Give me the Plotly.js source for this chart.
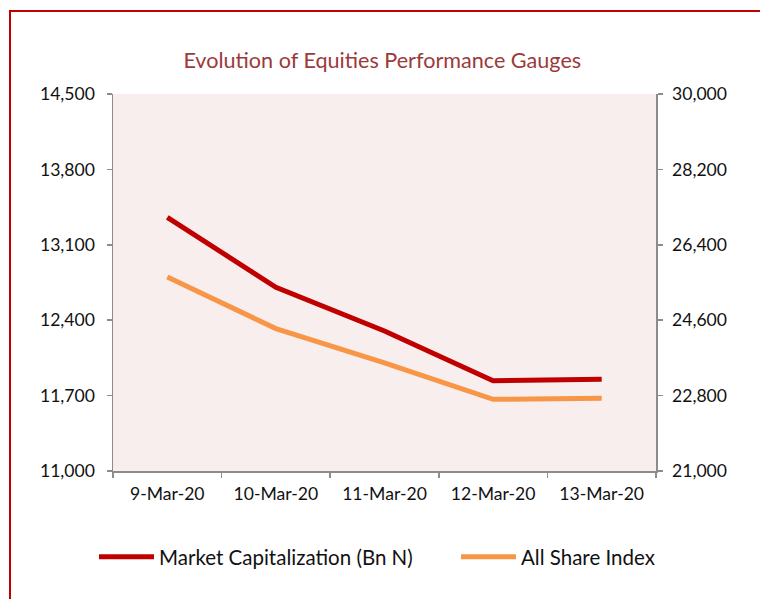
<!DOCTYPE html>
<html><head><meta charset="utf-8">
<script src="https://cdn.plot.ly/plotly-3.0.1.min.js"></script>
<style>
html,body{margin:0;padding:0;background:#fff;}
#wrap{position:relative;width:760px;height:599px;overflow:hidden;}
#chart{position:absolute;left:0;top:0;width:760px;height:599px;}
#frame{position:absolute;left:9px;top:10px;width:800px;height:700px;border-left:2px solid #C00000;border-top:2px solid #C00000;pointer-events:none;}
</style></head>
<body><div id="wrap"><div id="chart"></div><div id="frame"></div></div>
<script>
const dates = ["9-Mar-20","10-Mar-20","11-Mar-20","12-Mar-20","13-Mar-20"];
const marketCap = [13355, 12705, 12300, 11838, 11852];
const allShareIndex = [25630, 24400, 23580, 22712, 22735];
const leftTicks = [11000, 11700, 12400, 13100, 13800, 14500];
const rightTicks = [21000, 22800, 24600, 26400, 28200, 30000];
const fmt = v => v.toLocaleString('en-US');

const font = "Lato, Open Sans, sans-serif";
const traces = [
  {x: dates, y: marketCap, name: "Market Capitalization (Bn N)", type: "scatter", mode: "lines",
   line: {color: "#C00000", width: 5}, yaxis: "y", legend: "legend"},
  {x: dates, y: allShareIndex, name: "All Share Index", type: "scatter", mode: "lines",
   line: {color: "#F79646", width: 5}, yaxis: "y2", legend: "legend2"}
];
const axisCommon = {showgrid: false, zeroline: false, showline: true, linecolor: "#8c8c8c", linewidth: 1.5,
  ticks: "outside", ticklen: 5, tickcolor: "#8c8c8c", tickwidth: 1.5, tickfont: {family: font, size: 17.6, color: "#111"}};
const legendCommon = {orientation: "h", xanchor: "left", y: -0.228, yanchor: "middle",
  font: {family: font, size: 20.5, color: "#111"}, itemwidth: 55, bgcolor: "rgba(0,0,0,0)"};
const layout = {
  width: 760, height: 599,
  margin: {l: 113, r: 104, t: 94, b: 128},
  paper_bgcolor: "#ffffff", plot_bgcolor: "#F8EEEE",
  title: {text: "Evolution of Equities Performance Gauges", x: 0.503, xanchor: "center", y: 1 - 60/599, yanchor: "middle",
    font: {family: font, size: 21.6, color: "#9B3A3A"}},
  xaxis: Object.assign({}, axisCommon, {type: "category", range: [-0.5, 4.5], tickson: "boundaries", ticklabelstandoff: 6}),
  yaxis: Object.assign({}, axisCommon, {range: [11000, 14500], tickvals: leftTicks, ticktext: leftTicks.map(fmt), ticklabelstandoff: 8}),
  yaxis2: Object.assign({}, axisCommon, {overlaying: "y", side: "right", range: [21000, 30000], tickvals: rightTicks, ticktext: rightTicks.map(fmt), ticklabelstandoff: 6}),
  showlegend: true,
  legend: Object.assign({}, legendCommon, {x: (94 - 113) / 543}),
  legend2: Object.assign({}, legendCommon, {x: (456 - 113) / 543})
};
Plotly.newPlot("chart", traces, layout, {displayModeBar: false, staticPlot: true});
</script></body></html>
